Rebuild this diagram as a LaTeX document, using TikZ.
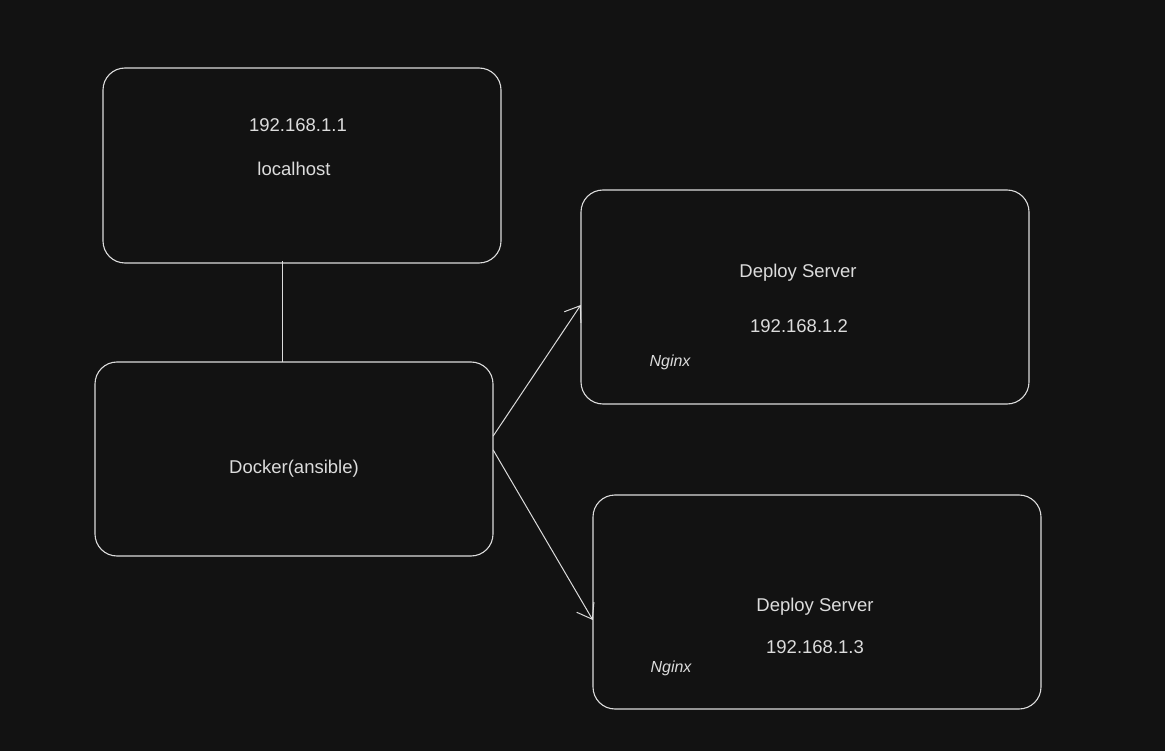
\documentclass[tikz,border=0pt]{standalone}
\usepackage{fontspec}
\setmainfont{Liberation Sans}
\usetikzlibrary{arrows.meta}
\definecolor{bg}{HTML}{121212}
\definecolor{ink}{HTML}{DCDCDC}
\tikzset{
  box/.style={draw=ink, line width=1.1pt, rounded corners=22pt},
  lbl/.style={text=ink, font=\fontsize{18.5}{20}\selectfont, inner sep=0pt},
  conn/.style={draw=ink, line width=1pt},
  arr/.style={conn, -{Straight Barb[length=14pt, width=20pt, line width=1pt]}},
}
\begin{document}
\begin{tikzpicture}[x=1pt, y=-1pt]
\fill[bg] (0,0) rectangle (1165,751);
\useasboundingbox (0,0) rectangle (1165,751);
% boxes
\draw[box] (103,68) rectangle (501,263);
\node[inner sep=0pt, minimum width=398pt, minimum height=195pt] (A) at (302,165.5) {};
\draw[box] (95,362) rectangle (493,556);
\node[inner sep=0pt, minimum width=398pt, minimum height=194pt] (B) at (294,459) {};
\draw[box] (581,190) rectangle (1029,404);
\node[inner sep=0pt, minimum width=448pt, minimum height=214pt] (C) at (805,297) {};
\draw[box] (593,495) rectangle (1041,709);
\node[inner sep=0pt, minimum width=448pt, minimum height=214pt] (D) at (817,602) {};
% texts
\node[lbl] (a1) at (298,125) {192.168.1.1};
\node[lbl] (a2) at (294,169) {localhost};
\node[lbl] (b1) at (294,469) {Docker(ansible)};
\node[lbl] (c1) at (798,273) {Deploy Server};
\node[lbl] (c2) at (799,326) {192.168.1.2};
\node[lbl, font=\fontsize{16}{18}\selectfont\itshape] (c3) at (670,362) {Nginx};
\node[lbl] (d1) at (815,607) {Deploy Server};
\node[lbl] (d2) at (815,647) {192.168.1.3};
\node[lbl, font=\fontsize{16}{18}\selectfont\itshape] (d3) at (671,668) {Nginx};
% connectors
\coordinate (ab1) at (A.south -| 282,0);
\coordinate (ab2) at (B.north -| 282,0);
\draw[conn] ([yshift=2pt]ab1) -- (ab2);
\coordinate (s1) at (B.east |- 0,436);
\coordinate (t1) at (C.west |- 0,305);
\coordinate (s2) at (B.east |- 0,450);
\coordinate (t2) at (D.west |- 0,620);
\draw[arr] (s1) -- (t1);
\draw[arr] (s2) -- (t2);
\end{tikzpicture}
\end{document}
